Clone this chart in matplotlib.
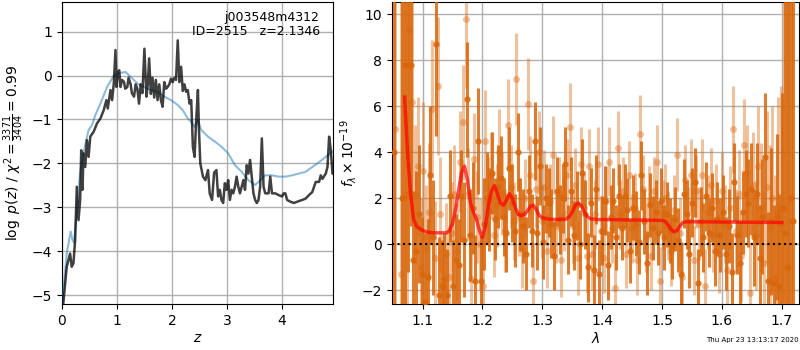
import numpy as np
import matplotlib
matplotlib.use("Agg")
import matplotlib.pyplot as plt

# ---- redshift posterior: log p(z) ----
pz_z = [0.0, 0.024, 0.086, 0.116, 0.147, 0.177, 0.208, 0.239, 0.269, 0.30, 0.33,
        0.349, 0.373, 0.391, 0.422, 0.453, 0.483, 0.514, 0.575, 0.636, 0.697,
        0.758, 0.807, 0.832, 0.881, 0.911, 0.942, 0.972, 0.991, 1.015, 1.04,
        1.064, 1.09, 1.125, 1.15, 1.187, 1.21, 1.248, 1.27, 1.309, 1.34, 1.37,
        1.40, 1.431, 1.462, 1.498, 1.535, 1.56, 1.584, 1.615, 1.645, 1.676,
        1.706, 1.737, 1.768, 1.798, 1.829, 1.859, 1.89, 1.92, 1.95, 1.982,
        2.012, 2.043, 2.073, 2.104, 2.134, 2.165, 2.196, 2.226, 2.257, 2.287,
        2.318, 2.349, 2.379, 2.41, 2.44, 2.471, 2.489, 2.514, 2.563, 2.606,
        2.654, 2.685, 2.728, 2.765, 2.807, 2.838, 2.869, 2.899, 2.93, 2.96,
        2.991, 3.021, 3.052, 3.083, 3.113, 3.144, 3.174, 3.205, 3.235, 3.266,
        3.297, 3.327, 3.358, 3.388, 3.419, 3.45, 3.48, 3.511, 3.541, 3.572,
        3.602, 3.633, 3.664, 3.694, 3.755, 3.786, 3.817, 3.878, 3.939, 4.0,
        4.031, 4.061, 4.092, 4.153, 4.214, 4.275, 4.367, 4.428, 4.489, 4.55,
        4.612, 4.673, 4.703, 4.734, 4.795, 4.826, 4.856, 4.887, 4.917, 4.979]
pz_log = [-5.3, -5.18, -4.35, -4.2, -4.05, -4.35, -4.27, -3.74, -2.53, -3.29, -2.83,
          -1.7, -2.6, -1.77, -2.08, -1.47, -1.85, -1.39, -1.28, -1.09, -0.98,
          -0.79, -0.56, -0.75, -0.33, -0.56, -0.18, 0.58, -0.26, 0.05, 0.12,
          -0.26, -0.1, -0.14, -0.3, -0.26, -0.05, -0.2, -0.4, -0.48, -0.2, -0.3,
          -0.64, -0.2, -0.4, 0.61, -0.48, -0.2, 0.39, -0.42, -0.05, -0.5,
          -0.1, -0.56, -0.2, -0.56, -0.71, -0.15, -0.3, -0.26, -0.2, -0.07,
          -0.15, -0.05, -0.1, 0.8, -0.15, 0.2, -0.35, -0.2, -0.37, -0.33,
          -0.64, -0.56, -1.62, -1.85, -1.0, -0.33, -1.2, -2.0, -2.3, -2.38,
          -2.15, -2.68, -2.83, -2.21, -2.15, -2.75, -2.6, -2.83, -2.9, -2.45,
          -2.6, -2.38, -2.83, -2.6, -2.68, -2.53, -2.3, -2.53, -2.68, -2.53,
          -2.38, -2.6, -2.04, -2.23, -1.92, -2.3, -2.68, -2.83, -2.9, -2.83,
          -2.53, -1.43, -2.53, -2.68, -2.68, -2.3, -2.68, -2.68, -2.72, -2.75,
          -2.68, -2.68, -2.83, -2.87, -2.9, -2.87, -2.83, -2.8, -2.72, -2.65,
          -2.42, -2.42, -2.27, -2.35, -2.23, -2.08, -1.39, -1.7, -2.23, -2.27]

prior_z = [0.0, 0.086, 0.129, 0.159, 0.19, 0.22, 0.269, 0.33, 0.391, 0.44, 0.483,
           0.544, 0.606, 0.697, 0.82, 0.942, 1.064, 1.156, 1.248, 1.37, 1.492,
           1.615, 1.737, 1.859, 1.982, 2.104, 2.196, 2.287, 2.349, 2.41, 2.471,
           2.532, 2.654, 2.777, 2.899, 3.021, 3.144, 3.266, 3.388, 3.511, 3.572,
           3.694, 3.817, 3.939, 4.061, 4.183, 4.306, 4.428, 4.55, 4.673, 4.795,
           4.917, 4.979]
prior_log = [-5.2, -4.05, -3.74, -3.55, -3.74, -3.8, -3.06, -2.23, -1.77, -1.47, -1.24,
             -1.13, -0.9, -0.64, -0.26, 0.0, 0.06, 0.08, -0.03, -0.18, -0.26,
             -0.33, -0.37, -0.48, -0.56, -0.67, -0.79, -0.98, -1.05, -1.17, -1.02,
             -1.24, -1.39, -1.5, -1.62, -1.77, -2.04, -2.19, -2.38, -2.49, -2.42,
             -2.27, -2.27, -2.3, -2.3, -2.27, -2.23, -2.19, -2.08, -1.97, -1.85,
             -1.73, -1.7]

# ---- 1D spectra (two orientations) ----
wave_a_start, wave_b_start, dlam = 1.0520, 1.0545, 0.0047
flux_a = [4.0, -4.5, -4.0, 2.0, 7.8, 7.8, 7.8, -0.7, -0.3, 1.3,
          -1.3, -2.5, -1.4, 3.0, 0.3, 8.7, -2.2, -1.8, -1.5, -2.2,
          2.1, -1.8, -0.7, -0.9, 2.1, 0.2, 6.3, 0.4, 1.6, -1.6,
          4.5, -1.6, 0.9, 2.0, 1.5, 3.1, 1.1, 2.5, 2.9, 1.2,
          0.5, 3.3, 1.8, 0.6, 4.0, 1.3, 0.8, -0.4, 2.3, 0.6,
          4.5, 0.5, 3.4, 0.1, 2.0, 1.8, 0.9, -0.5, 2.3, 1.1,
          2.0, 3.5, 0.2, 2.3, 0.4, 1.7, 0.0, 3.1, 1.3, -1.0,
          1.8, -1.1, 2.4, -1.3, 0.6, 1.9, -0.9, 1.2, 1.9, 0.3,
          2.1, 0.7, 2.1, 1.5, -0.3, 1.6, 0.9, 0.1, 3.0, 1.0,
          -0.8, 1.7, 0.7, 1.4, 0.5, 1.9, 0.3, 1.3, 0.6, -0.1,
          1.1, 0.2, -1.3, 2.2, 1.3, -0.4, 1.8, 2.7, -1.7, 1.0,
          0.3, 2.1, 0.5, 1.6, -0.3, 1.1, 0.4, 1.4, -0.4, 0.8,
          -1.2, 2.7, 0.4, -0.8, 1.4, 2.2, 1.8, 2.4, 0.3, 2.2,
          -0.6, 1.2, 3.8, -1.6, 1.0, -1.7, 1.2, -1.8, 1.6, 0.5,
          -1.0, 2.0, 1.0]
err_a = [40, 1, 1, 25, 15, 9, 7, 3, 3.5, 3,
         2.5, 3, 2.5, 3, 2.5, 4, 2.5, 2, 2, 2,
         2, 2, 2, 2, 2, 2.5, 2.5, 2, 2, 2,
         2.3, 2, 2, 2, 1.8, 1.8, 1.8, 1.8, 1.8, 1.7,
         1.7, 1.8, 1.7, 1.6, 1.7, 1.6, 1.6, 1.6, 1.6, 1.6,
         1.7, 1.6, 1.7, 1.6, 1.5, 1.5, 1.5, 1.5, 1.5, 1.5,
         1.5, 1.6, 1.5, 1.5, 1.5, 1.5, 1.5, 1.5, 1.5, 1.5,
         1.5, 1.5, 1.5, 1.5, 1.5, 1.5, 1.5, 1.4, 1.4, 1.4,
         1.4, 1.4, 1.4, 1.4, 1.4, 1.4, 1.4, 1.4, 1.5, 1.4,
         1.4, 1.4, 1.4, 1.4, 1.4, 1.4, 1.4, 1.4, 1.4, 1.4,
         1.4, 1.4, 1.4, 1.5, 1.5, 1.5, 1.5, 1.5, 1.5, 1.5,
         1.5, 1.5, 1.5, 1.5, 1.5, 1.6, 1.6, 1.6, 1.6, 1.6,
         1.7, 1.7, 1.7, 1.8, 1.8, 1.9, 1.9, 2.0, 2.1, 2.2,
         2.3, 2.5, 2.8, 3.0, 3.2, 3.4, 3.6, 4.0, 5.0, 20,
         30, 40, 40]
flux_b = [5.0, -4.0, -1.3, 2.0, 2.2, 9.3, 6.2, 2.2, 3.4, -1.0,
          3.2, -0.2, 1.4, 5.9, -0.6, 6.9, 1.3, -1.8, -0.4, -1.4,
          0.5, 2.2, -0.3, 3.6, 5.3, 9.8, 2.2, -1.5, 3.7, 1.2,
          0.0, -1.8, 4.5, 1.9, 3.0, 0.4, 1.7, 4.0, 2.2, 0.6,
          5.2, 2.5, 1.0, 7.2, 1.2, -0.2, 2.0, 6.1, 3.0, -1.6,
          2.4, 4.0, 1.0, 2.5, -0.3, 1.9, 3.9, 0.8, 2.2, -0.7,
          1.3, 3.0, 5.1, 0.8, 2.6, -0.6, 3.5, 1.6, -0.5, 3.4,
          -0.4, 1.3, 3.5, 0.6, -0.6, 1.9, 3.6, 0.7, -1.9, 4.2,
          1.3, 2.3, -0.4, 3.0, 0.7, 1.6, -0.7, 4.8, 2.4, 0.3,
          1.9, -0.5, 2.3, 3.6, -1.6, 1.3, 2.0, 0.8, -0.3, 1.5,
          3.9, 0.5, -1.4, 2.8, 1.0, 3.0, -0.7, 2.3, 0.9, 3.0,
          -1.8, 1.4, 2.6, 0.4, 1.9, -0.4, 2.3, 0.9, -1.1, 1.6,
          5.0, 0.6, 2.2, -0.5, 4.3, 3.1, -2.1, 2.6, 0.4, 3.4,
          1.6, -0.8, 2.5, 0.7, 2.0, -1.5, 1.4, 0.9, 1.6, -1.0,
          1.0]
err_b = [40, 1, 12, 20, 12, 7, 5, 3, 3, 3,
         3, 2.8, 3, 3, 2.5, 3, 2.5, 2.2, 2.2, 2.2,
         2.2, 2.1, 2.1, 2.2, 2.5, 3, 2, 2, 2, 2,
         2, 2, 2.2, 1.9, 1.9, 1.8, 1.8, 1.9, 1.8, 1.8,
         2, 1.8, 1.7, 2, 1.7, 1.7, 1.7, 2, 1.7, 1.7,
         1.7, 1.8, 1.6, 1.6, 1.6, 1.6, 1.7, 1.6, 1.6, 1.6,
         1.6, 1.6, 1.9, 1.6, 1.6, 1.6, 1.6, 1.6, 1.6, 1.6,
         1.6, 1.5, 1.6, 1.5, 1.5, 1.5, 1.5, 1.5, 1.5, 1.6,
         1.5, 1.5, 1.5, 1.5, 1.5, 1.5, 1.5, 1.7, 1.5, 1.5,
         1.5, 1.5, 1.5, 1.6, 1.5, 1.5, 1.5, 1.5, 1.5, 1.5,
         1.6, 1.5, 1.5, 1.5, 1.5, 1.6, 1.5, 1.6, 1.6, 1.6,
         1.6, 1.6, 1.6, 1.6, 1.6, 1.7, 1.7, 1.7, 1.8, 1.8,
         1.9, 1.8, 1.9, 2.0, 2.0, 2.1, 2.2, 2.3, 2.4, 2.6,
         2.8, 3.1, 3.3, 3.6, 4.0, 4.5, 5.0, 6.0, 20, 30,
         40]

# best-fit model
model_wave = [1.070, 1.075, 1.080, 1.085, 1.090, 1.100, 1.110, 1.120, 1.130, 1.140,
              1.145, 1.150, 1.155, 1.160, 1.165, 1.170, 1.175, 1.180, 1.185, 1.190,
              1.195, 1.200, 1.205, 1.210, 1.215, 1.220, 1.225, 1.230, 1.235, 1.240,
              1.245, 1.250, 1.255, 1.260, 1.265, 1.270, 1.275, 1.280, 1.285, 1.290,
              1.295, 1.300, 1.310, 1.320, 1.330, 1.340, 1.345, 1.350, 1.355, 1.360,
              1.365, 1.370, 1.375, 1.380, 1.390, 1.420, 1.450, 1.480, 1.500, 1.505,
              1.510, 1.515, 1.520, 1.525, 1.530, 1.535, 1.540, 1.560, 1.600, 1.650,
              1.700]
model_flux = [6.4, 4.0, 2.2, 1.1, 0.78, 0.6, 0.52, 0.5, 0.5, 0.5,
              0.6, 0.9, 1.5, 2.3, 3.1, 3.4, 2.8, 1.8, 1.4, 1.1,
              0.6, 0.3, 0.8, 1.7, 2.3, 2.55, 2.2, 1.8, 1.7, 1.9,
              2.2, 2.0, 1.6, 1.3, 1.25, 1.3, 1.45, 1.65, 1.7, 1.5,
              1.25, 1.15, 1.1, 1.08, 1.08, 1.1, 1.2, 1.4, 1.7, 1.8,
              1.7, 1.4, 1.2, 1.12, 1.08, 1.07, 1.06, 1.05, 1.04, 1.0,
              0.85, 0.65, 0.55, 0.6, 0.8, 0.95, 0.98, 0.98, 0.97, 0.96,
              0.95]

ztext = "j003548m4312\nID=2515   z=2.1346"
stamp = "Thu Apr 23 13:13:17 2020"

fig = plt.figure(figsize=(8, 3.5), dpi=100)
ax1 = fig.add_axes([0.0775, 0.131, 0.339, 0.863])
ax2 = fig.add_axes([0.49, 0.131, 0.509, 0.863])

# left panel
ax1.plot(prior_z, prior_log, color="#1f77b4", alpha=0.5, lw=1.5, zorder=3)
ax1.plot(pz_z, pz_log, color="k", alpha=0.75, lw=1.8, zorder=4)
ax1.set_xlim(0, 4.93)
ax1.set_ylim(-5.2, 1.67)
ax1.set_xticks([0, 1, 2, 3, 4])
ax1.set_yticks([-5, -4, -3, -2, -1, 0, 1])
ax1.grid(True, color="#b0b0b0", lw=1)
ax1.set_axisbelow(True)
ax1.set_xlabel(r"$z$", fontsize=10, labelpad=2)
ax1.set_ylabel(r"$\log\ p(z)$ / $\chi^2=\frac{3371}{3404}=0.99$", fontsize=10)
ax1.text(0.95, 0.97, ztext, transform=ax1.transAxes, ha="right", va="top",
         fontsize=9, linespacing=1.1)

# right panel
c_or = (0.85, 0.40, 0.04)
wave_a = wave_a_start + dlam * np.arange(len(flux_a))
wave_b = wave_b_start + dlam * np.arange(len(flux_b))
ax2.errorbar(wave_b, flux_b, yerr=err_b, fmt="o", color=c_or, alpha=0.4,
             ms=5, mew=0, elinewidth=2.2, capsize=0, zorder=2)
ax2.errorbar(wave_a, flux_a, yerr=err_a, fmt="o", color=c_or, alpha=0.85,
             ms=4.5, mew=0, elinewidth=2.2, capsize=0, zorder=3)
ax2.plot(model_wave, model_flux, color="r", alpha=0.7, lw=2.5, zorder=5)
ax2.axhline(0, color="k", ls=":", lw=1.5, zorder=6)
ax2.set_xlim(1.049, 1.729)
ax2.set_ylim(-2.6, 10.53)
ax2.set_xticks([1.1, 1.2, 1.3, 1.4, 1.5, 1.6, 1.7])
ax2.set_yticks([-2, 0, 2, 4, 6, 8, 10])
ax2.grid(True, color="#b0b0b0", lw=1)
ax2.set_axisbelow(True)
ax2.set_xlabel(r"$\lambda$", fontsize=10, labelpad=2)
ax2.set_ylabel(r"$f_\lambda\times10^{-19}$", fontsize=10, labelpad=2)

fig.text(0.94, 0.028, stamp, ha="center", va="center", fontsize=5)

fig.savefig("out.png", dpi=100)
